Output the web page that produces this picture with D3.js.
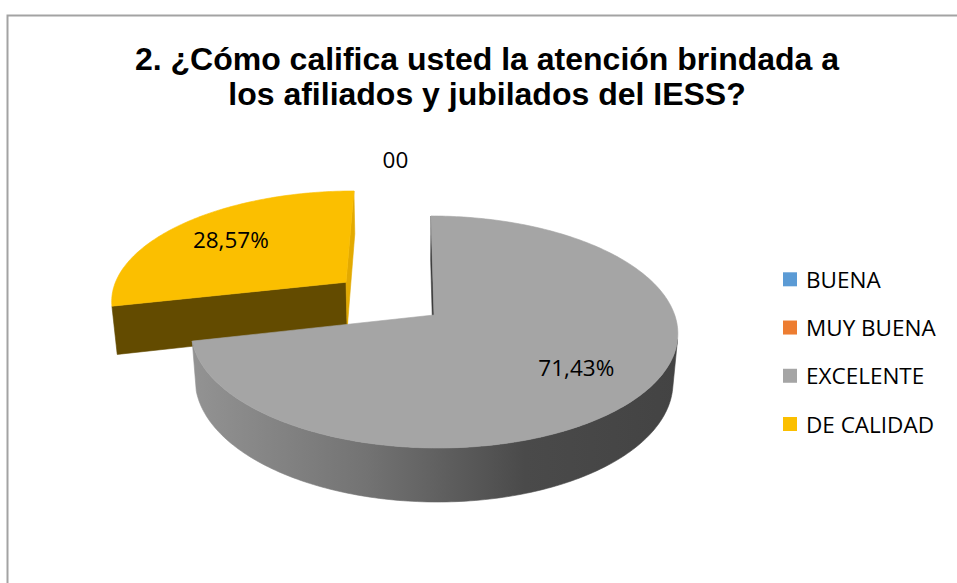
<!DOCTYPE html>
<html>
<head>
<meta charset="utf-8">
<script src="https://cdn.jsdelivr.net/npm/d3@7"></script>
<style>
  html, body { margin: 0; padding: 0; background: #ffffff; }
  svg { display: block; }
</style>
</head>
<body>
<svg id="chart" width="957" height="583"></svg>
<script>
// ---- data ----
const titleLines = ["2. ¿Cómo califica usted la atención brindada a", "los afiliados y jubilados del IESS?"];
const categories = ["BUENA", "MUY BUENA", "EXCELENTE", "DE CALIDAD"];
const values = [0, 0, 71.43, 28.57];
const valueLabels = ["0", "0", "71,43%", "28,57%"];
const colors = ["#5B9BD5", "#ED7D31", "#A5A5A5", "#FBBF00"];
const explode = [0, 0, 0, 0.4827];

// ---- styling per slice (side faces) ----
const sideColors = ["#3f6d99", "#a9581f", "url(#graySide)", "#634b00"];
const startFaceColors = ["#3f6d99", "#a9581f", "#3c3c3c", "#634b00"];
const endFaceColors = ["#3f6d99", "#a9581f", "#3c3c3c", "#e3aa00"];

const W = 957, H = 583;
const svg = d3.select("#chart");

// gradient for the grey side wall
const defs = svg.append("defs");
const g1 = defs.append("linearGradient").attr("id", "graySide")
  .attr("gradientUnits", "userSpaceOnUse").attr("x1", 197).attr("x2", 680).attr("y1", 0).attr("y2", 0);
[[0, "#929292"], [0.35, "#737373"], [0.68, "#4a4a4a"], [1, "#434343"]].forEach(([o, c]) =>
  g1.append("stop").attr("offset", o).attr("stop-color", c));

// frame
svg.append("path").attr("d", `M7.5,${H} V15.5 H${W}`).attr("fill", "none")
  .attr("stroke", "#a3a3a3").attr("stroke-width", 2);

// title
svg.append("text").attr("x", 487).attr("y", 70)
  .attr("text-anchor", "middle").attr("font-family", "Liberation Sans, Arial, sans-serif")
  .attr("font-weight", "bold").attr("font-size", 32).attr("fill", "#000")
  .selectAll("tspan").data(titleLines).join("tspan")
  .attr("x", 487).attr("dy", (d, i) => i === 0 ? 0 : 35).text(d => d);

// ---- 3D projection (pie plane u,v ; height h ; unit = radius) ----
const CX = 410.5, CY = 315, K = 240.7;
const sinA = 0.4716, cosA = Math.sqrt(1 - sinA * sinA);
const Dr = 1 / 0.1661;    // camera distance / radius
const u0 = 0.0976;        // pie centre offset from camera axis
const thick = 0.2333;     // wall height / radius
function project(u, v, h) {
  const xc = u + u0;
  const yc = -v * sinA + h * cosA;
  const zc = Dr - v * cosA - h * sinA;
  return [CX + K * Dr * xc / zc, CY - K * Dr * yc / zc];
}
const cam = [-u0, Dr * cosA, Dr * sinA];
function facing(n, p) {
  return n[0] * (cam[0] - p[0]) + n[1] * (cam[1] - p[1]) + n[2] * (cam[2] - p[2]) > 0;
}

const pie = d3.pie().sort(null).value(d => d).startAngle(0).endAngle(2 * Math.PI);
const arcs = pie(values).map((a, i) => {
  const mid = (a.startAngle + a.endAngle) / 2;
  return { ...a, i, mid, ou: explode[i] * Math.sin(mid), ov: -explode[i] * Math.cos(mid) };
});

const line = d3.line();
const plot = svg.append("g");

// depth sort: farthest first
const drawn = arcs.filter(a => a.value > 0)
  .sort((a, b) => (a.ov - Math.cos(a.mid) * 0.5) - (b.ov - Math.cos(b.mid) * 0.5));

drawn.forEach(a => {
  const g = plot.append("g");
  const n = Math.max(8, Math.round((a.endAngle - a.startAngle) / (Math.PI / 180)));
  const thetas = d3.range(n + 1).map(k => a.startAngle + (a.endAngle - a.startAngle) * k / n);
  const rim = t => [a.ou + Math.sin(t), a.ov - Math.cos(t)];
  const faces = [];
  // radial start face
  {
    const nrm = [-Math.cos(a.startAngle), -Math.sin(a.startAngle), 0];
    const r = rim(a.startAngle);
    const pts = [[a.ou, a.ov, 0], [r[0], r[1], 0], [r[0], r[1], -thick], [a.ou, a.ov, -thick]];
    faces.push({ vis: facing(nrm, [(a.ou + r[0]) / 2, (a.ov + r[1]) / 2, 0]), pts, fill: startFaceColors[a.i] });
  }
  // radial end face
  {
    const nrm = [Math.cos(a.endAngle), Math.sin(a.endAngle), 0];
    const r = rim(a.endAngle);
    const pts = [[a.ou, a.ov, 0], [r[0], r[1], 0], [r[0], r[1], -thick], [a.ou, a.ov, -thick]];
    faces.push({ vis: facing(nrm, [(a.ou + r[0]) / 2, (a.ov + r[1]) / 2, 0]), pts, fill: endFaceColors[a.i] });
  }
  // curved wall: contiguous visible runs
  let run = [];
  const runs = [];
  thetas.forEach(t => {
    const r = rim(t);
    const vis = facing([Math.sin(t), -Math.cos(t), 0], [r[0], r[1], 0]);
    if (vis) run.push(t); else if (run.length) { runs.push(run); run = []; }
  });
  if (run.length) runs.push(run);
  runs.forEach(rn => {
    if (rn.length < 2) return;
    const top = rn.map(t => { const r = rim(t); return [r[0], r[1], 0]; });
    const bot = rn.slice().reverse().map(t => { const r = rim(t); return [r[0], r[1], -thick]; });
    faces.push({ vis: true, pts: top.concat(bot), fill: sideColors[a.i] });
  });
  faces.filter(f => f.vis).forEach(f => {
    g.append("path").attr("d", line(f.pts.map(p => project(...p))) + "Z")
      .attr("fill", f.fill).attr("stroke", f.fill).attr("stroke-width", 0.6).attr("stroke-linejoin", "round");
  });
  // top face
  const topPts = [[a.ou, a.ov, 0]].concat(thetas.map(t => { const r = rim(t); return [r[0], r[1], 0]; }));
  g.append("path").attr("d", line(topPts.map(p => project(...p))) + "Z")
    .attr("fill", colors[a.i]).attr("stroke", colors[a.i]).attr("stroke-width", 0.6).attr("stroke-linejoin", "round");
});

// ---- data labels ----
const labelFont = "Open Sans, sans-serif";
const labelSize = 22.5;
const labelR = 0.7;
arcs.forEach(a => {
  let x, y;
  if (a.value > 0) {
    [x, y] = project(a.ou + labelR * Math.sin(a.mid), a.ov - labelR * Math.cos(a.mid), 0);
  } else {
    const [ax, ay] = project(Math.sin(a.startAngle), -Math.cos(a.startAngle), 0);
    x = ax - 42 + 13 * a.i; y = ay - 56;
  }
  svg.append("text").attr("x", x).attr("y", y)
    .attr("text-anchor", "middle").attr("dominant-baseline", "central")
    .attr("font-family", labelFont).attr("font-size", labelSize).attr("fill", "#000")
    .text(valueLabels[a.i]);
});

// ---- legend ----
const legY = d3.scalePoint().domain(categories).range([279.3, 424]);
const leg = svg.append("g");
categories.forEach((c, i) => {
  leg.append("rect").attr("x", 783).attr("y", legY(c) - 7).attr("width", 14).attr("height", 14)
    .attr("fill", colors[i]);
  leg.append("text").attr("x", 806).attr("y", legY(c)).attr("dominant-baseline", "central")
    .attr("font-family", labelFont).attr("font-size", labelSize).attr("fill", "#000").text(c);
});
</script>
</body>
</html>
